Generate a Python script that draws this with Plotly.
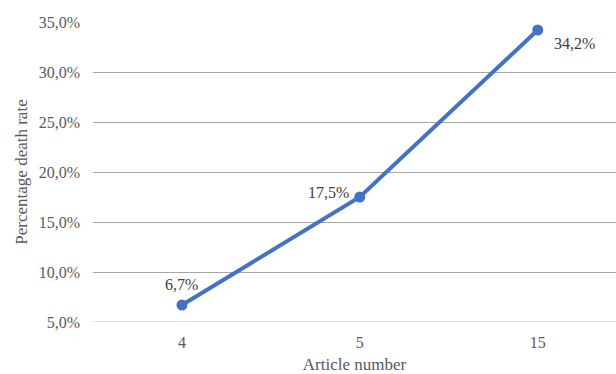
import plotly.graph_objects as go

categories = ["4", "5", "15"]
death_rate = [0.067, 0.175, 0.342]
labels = ["6,7%", "17,5%", "34,2%"]

font_family = "Liberation Serif"
grey = "#595959"
blue = "#4472C4"

fig = go.Figure(
    go.Scatter(
        x=categories,
        y=death_rate,
        mode="lines+markers",
        line=dict(color=blue, width=4),
        marker=dict(color=blue, size=11),
        cliponaxis=False,
        showlegend=False,
    )
)

# data labels (anchored at data points via category index, offset in pixels)
label_style = [
    dict(xanchor="center", yanchor="bottom", xshift=0, yshift=10),
    dict(xanchor="right", yanchor="middle", xshift=-9, yshift=5),
    dict(xanchor="left", yanchor="middle", xshift=14, yshift=-13),
]
for i, (val, lab, st) in enumerate(zip(death_rate, labels, label_style)):
    fig.add_annotation(
        x=i, y=val, xref="x", yref="y", text=lab, showarrow=False,
        font=dict(family=font_family, size=16, color="#404040"),
        **st,
    )

fig.update_layout(
    width=616,
    height=374,
    margin=dict(l=93, r=0, t=22, b=52),
    plot_bgcolor="white",
    paper_bgcolor="white",
    separators=", ",
    font=dict(family=font_family, size=16, color=grey),
)

fig.update_xaxes(
    type="category",
    categoryorder="array",
    categoryarray=categories,
    range=[-0.5, 2.44],
    showgrid=False,
    showline=False,
    ticks="",
    ticklabelstandoff=9,
    tickfont=dict(family=font_family, size=16, color=grey),
    title=dict(text="Article number", font=dict(family=font_family, size=17, color=grey), standoff=8),
)

fig.update_yaxes(
    range=[0.05, 0.35],
    dtick=0.05,
    tick0=0.05,
    tickformat=".1%",
    showgrid=True,
    gridcolor="#a6a6a6",
    gridwidth=1,
    zeroline=False,
    showline=False,
    ticks="",
    ticklabelstandoff=12,
    tickfont=dict(family=font_family, size=16, color=grey),
    title=dict(text="Percentage death rate", font=dict(family=font_family, size=17, color=grey), standoff=6),
)

fig.add_shape(
    type="line", xref="paper", yref="y", x0=0, x1=1, y0=0.05, y1=0.05,
    line=dict(color="#d9d9d9", width=1.5), layer="below",
)

fig.write_html("out.html")
